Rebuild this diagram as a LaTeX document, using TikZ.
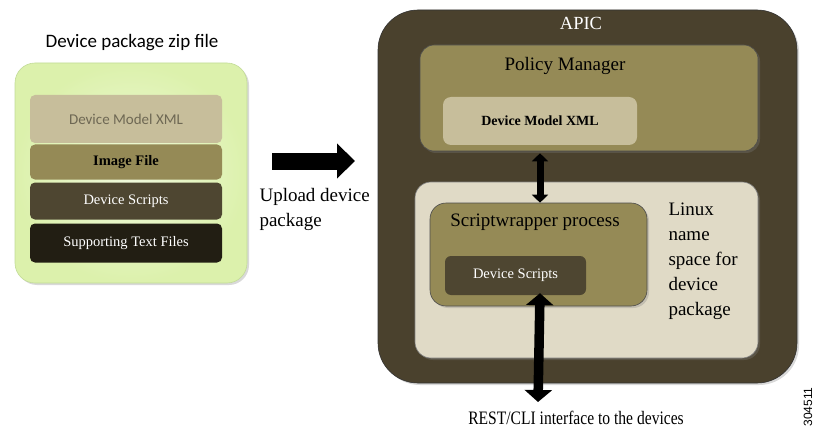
\documentclass[tikz,border=0pt]{standalone}
\usepackage{fontspec}
\setmainfont{Liberation Serif}
\setsansfont{Liberation Sans}
\newfontfamily\calib{Carlito}
\usetikzlibrary{arrows.meta,shadows}
\definecolor{pkggreen}{HTML}{DCF1AC}
\definecolor{pkgpale}{HTML}{F0F9DC}
\definecolor{pkgline}{HTML}{C2DB98}
\definecolor{tanlayer}{HTML}{C7BE9B}
\definecolor{olivelayer}{HTML}{958A56}
\definecolor{darklayer}{HTML}{4E4631}
\definecolor{blacklayer}{HTML}{221E13}
\definecolor{apicbrown}{HTML}{4A412D}
\definecolor{nsbeige}{HTML}{E0DAC6}
\definecolor{xmlgray}{HTML}{6E6854}
\begin{document}
\begin{tikzpicture}[x=1pt,y=-1pt,
  box/.style={rounded corners=#1, inner sep=0pt, draw=black!60, line width=0.6pt,
    drop shadow={shadow xshift=2pt, shadow yshift=-2pt, opacity=0.3}},
  box/.default=6pt,
  layer/.style={rounded corners=5pt, inner sep=0pt, minimum width=192pt},
  lbl/.style={font=\fontsize{19}{25}\selectfont},
  small/.style={font=\fontsize{14.5}{17}\selectfont},
  fatarrow/.style={line width=#1, draw=black}]
\useasboundingbox (0,0) rectangle (819,433);
% device package
\node[font=\calib\fontsize{19}{22}\selectfont] (ziptitle) at (132,43) {Device package zip file};
\node[box=20pt, inner color=pkgpale, outer color=pkggreen, draw=pkgline, minimum width=232pt, minimum height=220pt] (zipbox) at (131,173) {};
\node[layer, fill=tanlayer, minimum height=48pt, text=xmlgray, font=\calib\fontsize{15}{18}\selectfont] (xmlL) at (126,119) {Device Model XML};
\node[layer, fill=olivelayer, minimum height=35pt, small] (imgL) at (126,162) {\textbf{Image File}};
\node[layer, fill=darklayer, minimum height=37pt, small, text=white] (dsL) at (126,201) {Device Scripts};
\node[layer, fill=blacklayer, minimum height=39pt, small, text=white] (stfL) at (126,243) {Supporting Text Files};
% upload
\coordinate (upS) at (272,161);
\coordinate (upE) at (355,161);
\draw[fatarrow=17pt, -{Triangle[length=18pt,width=34pt]}] (upS) -- (upE);
\node[lbl, anchor=north west, align=left] (upload) at (256,185) {Upload device\\package};
% APIC
\node[box=40pt, fill=apicbrown, draw=black!80, minimum width=419pt, minimum height=373pt] (apic) at (587.5,196.5) {};
\node[lbl, text=white, font=\fontsize{18.5}{22}\selectfont] (apictitle) at (581,23) {APIC};
\node[box=14pt, fill=olivelayer, draw=black!70, minimum width=338pt, minimum height=106pt] (pm) at (589,98) {};
\node[lbl] (pmtitle) at (565,66) {Policy Manager};
\node[rounded corners=8pt, inner sep=0pt, fill=tanlayer, minimum width=194pt, minimum height=48pt, font=\fontsize{14}{17}\selectfont] (pmxml) at (540,121) {\textbf{Device Model XML}};
\node[box=16pt, fill=nsbeige, draw=black!50, minimum width=343pt, minimum height=176pt] (linuxns) at (586.5,270) {};
\node[box=16pt, fill=olivelayer, draw=black!70, minimum width=217pt, minimum height=103pt] (swp) at (538.5,254.5) {};
\node[lbl] (swptitle) at (535,222) {Scriptwrapper process};
\node[rounded corners=6pt, inner sep=0pt, fill=darklayer, minimum width=141pt, minimum height=39pt, small, text=white] (ds) at (515.5,275.5) {Device Scripts};
\node[lbl, anchor=north west, align=left] (nstext) at (665,199) {Linux\\name\\space for\\device\\package};
% interfaces
\draw[fatarrow=7pt, {Triangle[length=8pt,width=16pt]}-{Triangle[length=8pt,width=16pt]}] (pmxml.south |- pm.south) ++(0,2) -- (pmxml.south |- swp.north);
\coordinate (restio) at (538,402);
\draw[fatarrow=9.5pt, {Triangle[length=12pt,width=27pt]}-{Triangle[length=12pt,width=27pt]}] (pmxml.south |- ds.south) ++(0,-2) -- (restio);
\node[lbl, xscale=0.82] (rest) at (576,418) {REST/CLI interface to the devices};
\node[font=\sffamily\fontsize{12}{14}\selectfont, rotate=90] (fignum) at (808,407) {304511};
\end{tikzpicture}
\end{document}
